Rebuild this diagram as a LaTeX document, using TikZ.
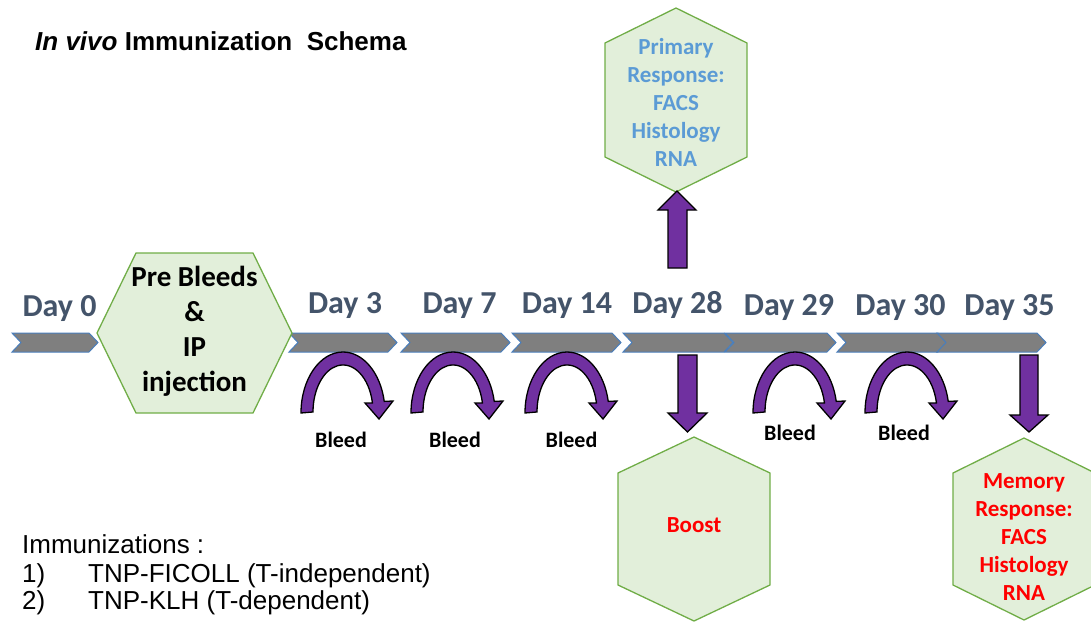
\documentclass[tikz,border=0pt]{standalone}
\usepackage{fontspec}
\setmainfont{Carlito}
\newfontfamily\arialf{Liberation Sans}
\definecolor{chevfill}{HTML}{7F7F7F}
\definecolor{chevline}{HTML}{4A7EBB}
\definecolor{hexfill}{HTML}{E2EFDA}
\definecolor{hexline}{HTML}{70AD47}
\definecolor{arrpurple}{HTML}{7030A0}
\definecolor{daytext}{HTML}{44546A}
\definecolor{primtext}{HTML}{5B9BD5}
\definecolor{memred}{HTML}{FF0000}
\begin{document}
\begin{tikzpicture}[x=1pt,y=-1pt,
  chev/.style={fill=chevfill,draw=chevline,line width=1pt,line join=miter},
  hexa/.style={fill=hexfill,draw=hexline,line width=1.3pt},
  blockarrow/.style={fill=arrpurple,draw=black,line width=1.3pt,line join=miter},
  daylabel/.style={anchor=base,inner sep=0,text=daytext,font=\fontsize{32}{38}\selectfont\bfseries},
  bleedlabel/.style={anchor=base,inner sep=0,text=black,font=\fontsize{22}{26}\selectfont\bfseries},
  hextext/.style={align=center,inner sep=0,font=\fontsize{23}{28}\selectfont\bfseries},
  listtext/.style={anchor=base west,inner sep=0,font=\arialf\fontsize{26}{29}\selectfont}
]
\useasboundingbox (0,0) rectangle (1091,621);

% title
\node[anchor=base west,inner sep=0] (title) at (35,50)
  {\arialf\bfseries\fontsize{26}{30}\selectfont\itshape In vivo\upshape{} Immunization\ \ Schema};

% timeline chevrons
\foreach \L/\T in {12/98,289/397,401/510,512/621,623/733,725/836,837/947,937/1046}{
  \draw[chev] (\L,333) -- (\T-9,333) -- (\T,342.5) -- (\T-9,352) -- (\L,352) -- (\L+9,342.5) -- cycle;
}

% day labels
\node[daylabel] (d0)  at (59.5,316) {Day 0};
\node[daylabel] (d3)  at (345,313) {Day 3};
\node[daylabel] (d7)  at (459.5,313) {Day 7};
\node[daylabel] (d14) at (567,313) {Day 14};
\node[daylabel] (d28) at (677.5,313) {Day 28};
\node[daylabel] (d29) at (789,315) {Day 29};
\node[daylabel] (d30) at (900.5,315) {Day 30};
\node[daylabel] (d35) at (1009.5,315) {Day 35};

% Pre bleeds hexagon
\draw[hexa] (97,333) -- (136,253) -- (253,253) -- (292,333) -- (253,413) -- (136,413) -- cycle;
\node[hextext,font=\fontsize{29}{35}\selectfont\bfseries] (pre) at (194.5,331) {Pre Bleeds\\\&\\IP\\injection};

% Primary response hexagon
\draw[hexa] (676,8) -- (747,43) -- (747,157) -- (676,192) -- (605,157) -- (605,43) -- cycle;
\node[hextext,text=primtext] (prim) at (676,102) {Primary\\Response:\\FACS\\Histology\\RNA};

% Boost hexagon
\draw[hexa] (694,437) -- (770,473) -- (770,585) -- (694,621) -- (618,585) -- (618,473) -- cycle;
\node[hextext,text=memred] (boost) at (694,525) {Boost};

% Memory hexagon
\draw[hexa] (1024,438) -- (1095,473) -- (1095,585) -- (1024,620) -- (953,585) -- (953,473) -- cycle;
\node[hextext,text=memred] (mem) at (1024,537) {Memory\\Response:\\FACS\\Histology\\RNA};

% block arrows
\draw[blockarrow] (668,268) -- (668,210) -- (658,210) -- (677,191) -- (696,210) -- (687,210) -- (687,268) -- cycle;
\draw[blockarrow] (678,355) -- (678,413) -- (668,413) -- (687.5,432) -- (707,413) -- (697,413) -- (697,355) -- cycle;
\draw[blockarrow] (1020,355) -- (1020,415) -- (1010,415) -- (1029,432) -- (1048,415) -- (1038,415) -- (1038,355) -- cycle;

% bleed curved arrows
\foreach \c in {343,453,567,795,907}{
  \draw[blockarrow] (\c-42,413) arc[start angle=180,end angle=349,x radius=42,y radius=61]
    -- (\c+50,401) -- (\c+36,419) -- (\c+22,403) -- (\c+29.45,403)
    arc[start angle=349,end angle=180,x radius=30,y radius=47] -- cycle;
}

% bleed labels
\node[bleedlabel] (b1) at (341,447) {Bleed};
\node[bleedlabel] (b2) at (455,447) {Bleed};
\node[bleedlabel] (b3) at (571.5,447) {Bleed};
\node[bleedlabel] (b4) at (790,440) {Bleed};
\node[bleedlabel] (b5) at (904,440) {Bleed};

% immunization list
\node[listtext] (imm) at (22,553) {Immunizations :};
\node[listtext] (n1) at (22,582) {1)};
\node[listtext] (i1) at (88,582) {TNP-FICOLL (T-independent)};
\node[listtext] (n2) at (22,609) {2)};
\node[listtext] (i2) at (88,609) {TNP-KLH (T-dependent)};
\end{tikzpicture}
\end{document}
